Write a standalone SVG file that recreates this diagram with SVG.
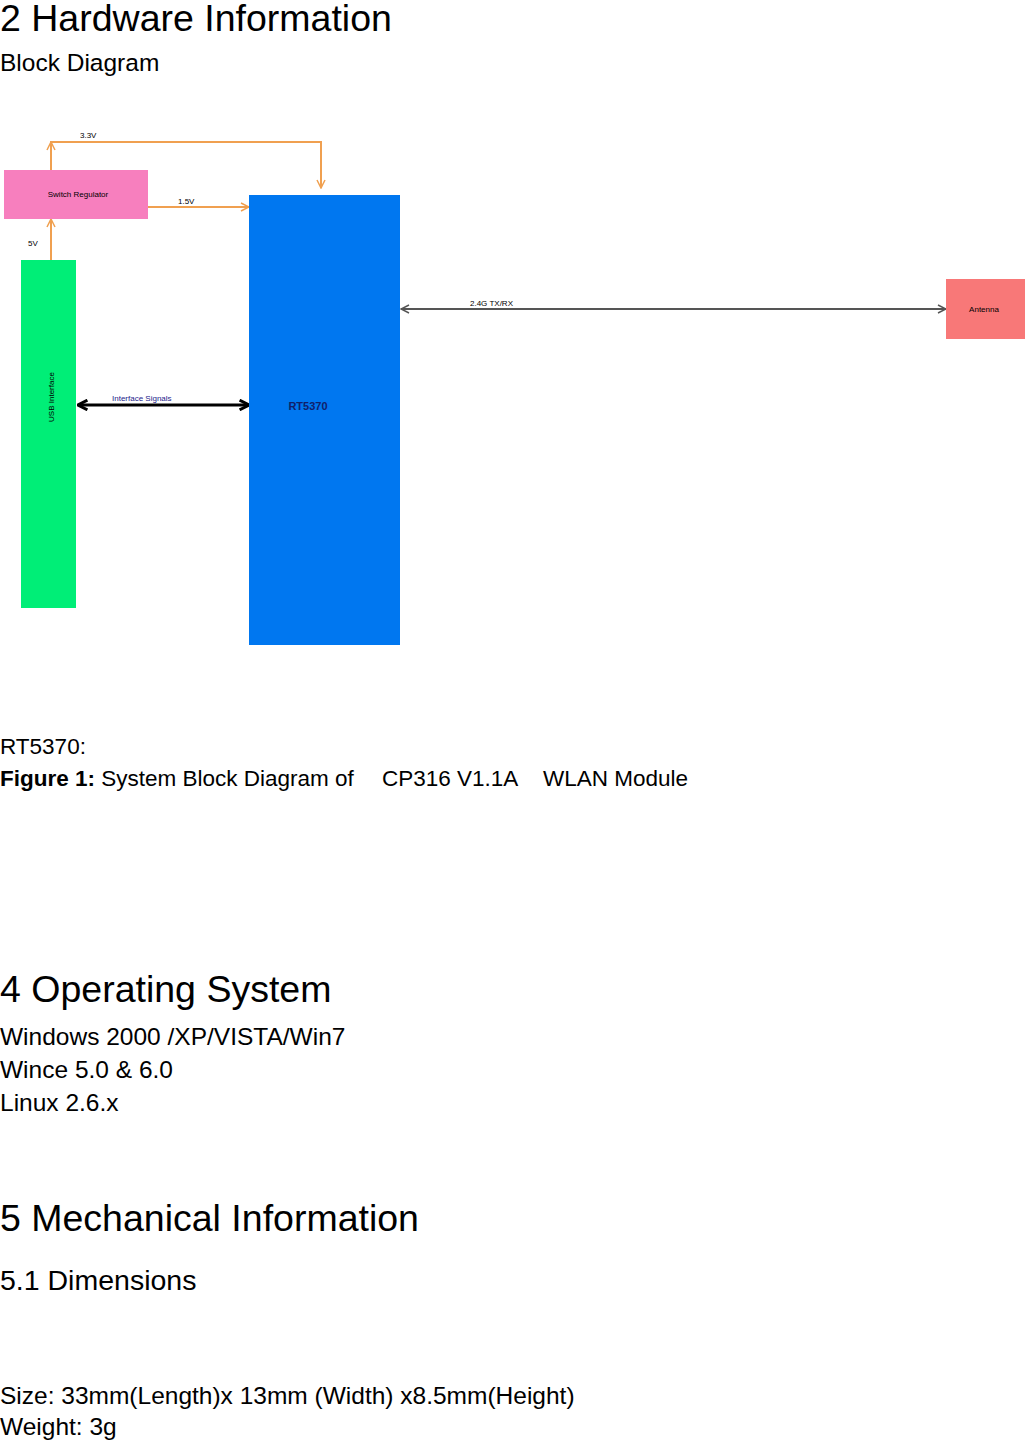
<svg xmlns="http://www.w3.org/2000/svg" width="1025" height="1441" viewBox="0 0 1025 1441">
<defs>
<style>
text{font-family:"Liberation Sans",Arial,sans-serif;fill:#000}
.h{font-size:37.5px}.b{font-size:24.5px}.f{font-size:22.5px}.s{font-size:8px}
.o{stroke:#f0a050;stroke-width:2;fill:none}
</style>
<marker id="oa" viewBox="0 0 10 10" refX="9" refY="5" markerWidth="10" markerHeight="10" orient="auto-start-reverse" markerUnits="userSpaceOnUse"><path d="M1 1L9 5L1 9" fill="none" stroke="#f0a050" stroke-width="1.5"/></marker>
<marker id="ga" viewBox="0 0 10 10" refX="9" refY="5" markerWidth="10" markerHeight="10" orient="auto-start-reverse" markerUnits="userSpaceOnUse"><path d="M1 1L9 5L1 9" fill="none" stroke="#555" stroke-width="1.5"/></marker>
<marker id="ka" viewBox="0 0 10 10" refX="8" refY="5" markerWidth="12" markerHeight="12" orient="auto-start-reverse" markerUnits="userSpaceOnUse"><path d="M1 1L9 5L1 9" fill="none" stroke="#000" stroke-width="2.5"/></marker>
</defs>
<rect width="1025" height="1441" fill="#fff"/>
<text class="h" x="0" y="31">2 Hardware Information</text>
<text class="b" x="0" y="71">Block Diagram</text>
<g id="connectors">
<path class="o" d="M51 170V142H321V188" marker-end="url(#oa)"/>
<path class="o" d="M51 142V143" marker-start="url(#oa)"/>
<path class="o" d="M148 207H249" marker-end="url(#oa)"/>
<path class="o" d="M51 260V219" marker-end="url(#oa)"/>
<path d="M401 309H946" stroke="#555" stroke-width="2" marker-start="url(#ga)" marker-end="url(#ga)"/>
<path d="M79 405H248" stroke="#000" stroke-width="3" marker-start="url(#ka)" marker-end="url(#ka)"/>
<text class="s" x="80" y="138">3.3V</text>
<text class="s" x="178" y="204">1.5V</text>
<text class="s" x="28" y="246">5V</text>
<text class="s" x="470" y="306">2.4G TX/RX</text>
<text class="s" x="112" y="401" style="fill:#22228a">Interface Signals</text>
</g>
<g id="switch"><rect x="4" y="170" width="144" height="49" fill="#f77fbe"/><text class="s" x="78" y="197" text-anchor="middle">Switch Regulator</text></g>
<g id="usb"><rect x="21" y="260" width="55" height="348" fill="#00ee77"/><text class="s" transform="translate(54 397) rotate(-90)" text-anchor="middle">USB Interface</text></g>
<g id="rt5370"><rect x="249" y="195" width="151" height="450" fill="#0077f0"/><text x="308" y="410" text-anchor="middle" style="font-size:11px;font-weight:bold;fill:#10206a">RT5370</text></g>
<g id="antenna"><rect x="946" y="279" width="79" height="60" fill="#f87878"/><text class="s" x="984" y="312" text-anchor="middle">Antenna</text></g>
<text class="f" x="0" y="754">RT5370:</text>
<text class="f" x="0" y="786"><tspan font-weight="bold">Figure 1:</tspan> System Block Diagram of</text>
<text class="f" x="382" y="786">CP316 V1.1A</text>
<text class="f" x="543" y="786">WLAN Module</text>
<text class="h" x="0" y="1002">4 Operating System</text>
<text class="b" x="0" y="1045">Windows 2000 /XP/VISTA/Win7</text>
<text class="b" x="0" y="1078">Wince 5.0 &amp; 6.0</text>
<text class="b" x="0" y="1111">Linux 2.6.x</text>
<text class="h" x="0" y="1231">5 Mechanical Information</text>
<text class="b" x="0" y="1290" style="font-size:28.5px">5.1 Dimensions</text>
<text class="b" x="0" y="1404">Size: 33mm(Length)x 13mm (Width) x8.5mm(Height)</text>
<text class="b" x="0" y="1435">Weight: 3g</text>
</svg>
